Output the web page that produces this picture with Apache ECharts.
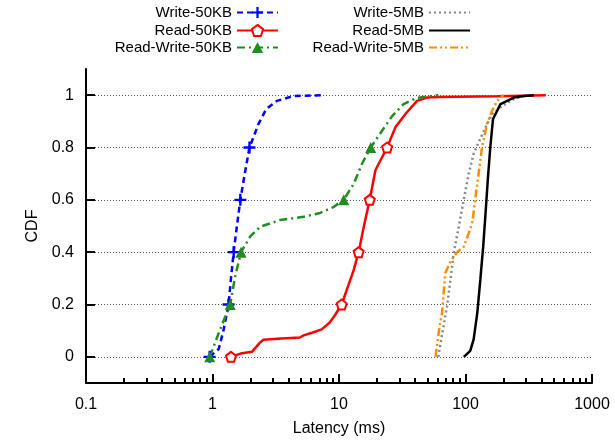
<!DOCTYPE html>
<html>
<head>
<meta charset="utf-8">
<script src="https://cdn.jsdelivr.net/npm/echarts@6/dist/echarts.min.js"></script>
<style>
  html, body { margin: 0; padding: 0; background: #fff; }
  #chart { width: 615px; height: 441px; }
</style>
</head>
<body>
<div id="chart"></div>
<script>
// [latency ms, cdf]
const write50KB = [[0.95, 0], [1.12, 0.03], [1.22, 0.1], [1.34, 0.2], [1.4, 0.3], [1.47, 0.4], [1.56, 0.5],
  [1.66, 0.6], [1.8, 0.7], [1.96, 0.8], [2.31, 0.89], [2.66, 0.947], [3.23, 0.978], [4.37, 0.997], [7.5, 1]];
const read50KB = [[1.4, 0], [1.71, 0.014], [2.05, 0.019], [2.38, 0.055], [2.53, 0.065], [3.5, 0.07], [4.9, 0.074],
  [5.25, 0.082], [6.2, 0.093], [7.3, 0.105], [8.4, 0.13], [9.2, 0.156], [10.5, 0.2], [13.1, 0.333], [14.3, 0.4],
  [15.7, 0.497], [17.5, 0.6], [19.4, 0.713], [24, 0.8], [27.9, 0.877], [33.5, 0.928], [41.4, 0.978], [49.7, 0.991],
  [63, 0.993], [178, 0.996], [430, 1]];
const readWrite50KB = [[0.95, 0], [1.15, 0.105], [1.38, 0.2], [1.51, 0.307], [1.68, 0.4], [1.99, 0.46], [2.38, 0.497],
  [3.43, 0.523], [5.25, 0.535], [7.1, 0.55], [9, 0.572], [10.9, 0.6], [13.1, 0.662], [15.2, 0.738], [17.8, 0.8],
  [21.9, 0.864], [26.3, 0.92], [32.4, 0.966], [41.4, 0.99], [61, 1]];
const write5MB = [[61, 0], [65, 0.08], [71.5, 0.194], [76, 0.295], [80.7, 0.396], [88.4, 0.497], [96.8, 0.599],
  [106, 0.7], [116, 0.776], [131, 0.833], [144, 0.877], [162, 0.928], [195, 0.959], [241, 0.985], [289, 0.997], [320, 1]];
const read5MB = [[97, 0], [109, 0.023], [116, 0.067], [124, 0.169], [131, 0.295], [138, 0.421], [144, 0.548],
  [150, 0.675], [157, 0.8], [165, 0.909], [180, 0.945], [189, 0.966], [241, 0.991], [290, 0.997], [347, 1]];
const readWrite5MB = [[58, 0], [61.4, 0.093], [65.3, 0.169], [67.2, 0.245], [69.3, 0.32], [76, 0.364], [85.8, 0.4],
  [96.8, 0.421], [106, 0.472], [113, 0.51], [120, 0.611], [127, 0.7], [135, 0.8], [148, 0.89], [162, 0.94],
  [178, 0.978], [195, 0.997], [200, 1]];

// gnuplot puts a point marker on the 50KB curves at these cdf values
const markCdf = [0, 0.2, 0.4, 0.6, 0.8];
const yTicks = [0, 0.2, 0.4, 0.6, 0.8, 1];
const xTicks = [0.1, 1, 10, 100, 1000];
const minorTicks = [];
[0.1, 1, 10, 100].forEach(p => {
  for (let k = 2; k <= 9; k++) minorTicks.push(+(k * p).toPrecision(2));
});

const font = "'Liberation Sans', Arial, sans-serif";
const plusPath = 'path://M4,0H6V4H10V6H6V10H4V6H0V4H4Z';
const pentagonPath = 'path://M5,0L10,3.6L8.1,9.5L1.9,9.5L0,3.6Z';

const points = (data, marks) =>
  data.map(([x, y]) => (marks.includes(y) ? { value: [x, y] } : { value: [x, y], symbol: 'none' }));

// one legend per entry so the text lines up right against the sample
const legendAt = (name, right, top, noSymbol) => ({
  data: [noSymbol ? { name: name, itemStyle: { opacity: 0 } } : name],
  right: right,
  top: top,
  padding: 0,
  align: 'right',
  itemWidth: 41,
  itemHeight: 14,
  selectedMode: false,
  textStyle: { fontSize: 15, color: '#000', fontFamily: font },
});

const option = {
  animation: false,
  backgroundColor: '#fff',
  legend: [
    legendAt('Write-50KB', 336, 5),
    legendAt('Read-50KB', 336, 23),
    legendAt('Read-Write-50KB', 336, 40),
    legendAt('Write-5MB', 144, 5, true),
    legendAt('Read-5MB', 144, 23, true),
    legendAt('Read-Write-5MB', 144, 40, true),
  ],
  grid: {
    left: 86,
    right: 23,
    top: 69,
    bottom: 58,
    containLabel: false,
    outerBoundsMode: 'none',
  },
  xAxis: [
    {
      type: 'log',
      logBase: 10,
      min: 0.1,
      max: 1000,
      position: 'bottom',
      name: 'Latency (ms)',
      nameLocation: 'middle',
      nameGap: 38,
      nameTextStyle: { fontSize: 16, color: '#000', fontFamily: font },
      axisLine: { show: true, onZero: false, lineStyle: { color: '#000', width: 2 } },
      axisTick: { show: true, inside: true, length: 9, customValues: xTicks, lineStyle: { color: '#000', width: 2 } },
      axisLabel: {
        margin: 14,
        fontSize: 16,
        color: '#000',
        fontFamily: font,
        customValues: xTicks,
        formatter: v => String(v),
      },
      splitLine: { show: false },
    },
    {
      // minor ticks at 2..9 of every decade
      type: 'log',
      logBase: 10,
      min: 0.1,
      max: 1000,
      position: 'bottom',
      axisLine: { show: false, onZero: false },
      axisTick: { show: true, inside: true, length: 5, customValues: minorTicks, lineStyle: { color: '#000', width: 2 } },
      axisLabel: { show: false },
      splitLine: { show: false },
    },
  ],
  yAxis: {
    type: 'value',
    min: -0.1,
    max: 1.1,
    name: 'CDF',
    nameLocation: 'middle',
    nameGap: 29,
    nameTextStyle: { fontSize: 16, color: '#000', fontFamily: font },
    axisLine: { show: true, onZero: false, lineStyle: { color: '#000', width: 2 } },
    axisTick: { show: true, inside: true, length: 9, customValues: yTicks, lineStyle: { color: '#000', width: 2 } },
    axisLabel: { margin: 12, fontSize: 16, color: '#000', fontFamily: font, customValues: yTicks },
    splitLine: { show: true, lineStyle: { color: '#555', width: 1, type: [1, 2] } },
  },
  series: [
    {
      name: 'Write-50KB',
      type: 'line',
      data: points(write50KB, markCdf),
      symbol: plusPath,
      symbolSize: 12,
      itemStyle: { color: '#0000ff' },
      lineStyle: { color: '#0000ff', width: 2.5, type: [6, 4] },
    },
    {
      name: 'Read-50KB',
      type: 'line',
      data: points(read50KB, markCdf),
      symbol: pentagonPath,
      symbolSize: 10,
      itemStyle: { color: '#fff', borderColor: '#ff0000', borderWidth: 2 },
      lineStyle: { color: '#ff0000', width: 2.5 },
    },
    {
      name: 'Read-Write-50KB',
      type: 'line',
      data: points(readWrite50KB, markCdf),
      symbol: 'triangle',
      symbolSize: 11,
      itemStyle: { color: '#228b22' },
      lineStyle: { color: '#228b22', width: 2.5, type: [8, 4, 2, 4] },
    },
    {
      name: 'Write-5MB',
      type: 'line',
      data: write5MB,
      symbol: 'none',
      itemStyle: { color: '#888' },
      lineStyle: { color: '#888', width: 2.5, type: [2, 3] },
    },
    {
      name: 'Read-5MB',
      type: 'line',
      data: read5MB,
      symbol: 'none',
      itemStyle: { color: '#000' },
      lineStyle: { color: '#000', width: 2.5 },
    },
    {
      name: 'Read-Write-5MB',
      type: 'line',
      data: readWrite5MB,
      symbol: 'none',
      itemStyle: { color: '#ff8c00' },
      lineStyle: { color: '#ff8c00', width: 2.5, type: [8, 3, 2, 3, 2, 3] },
    },
  ],
};

const myChart = echarts.init(document.getElementById('chart'));
myChart.setOption(option);
</script>
</body>
</html>
